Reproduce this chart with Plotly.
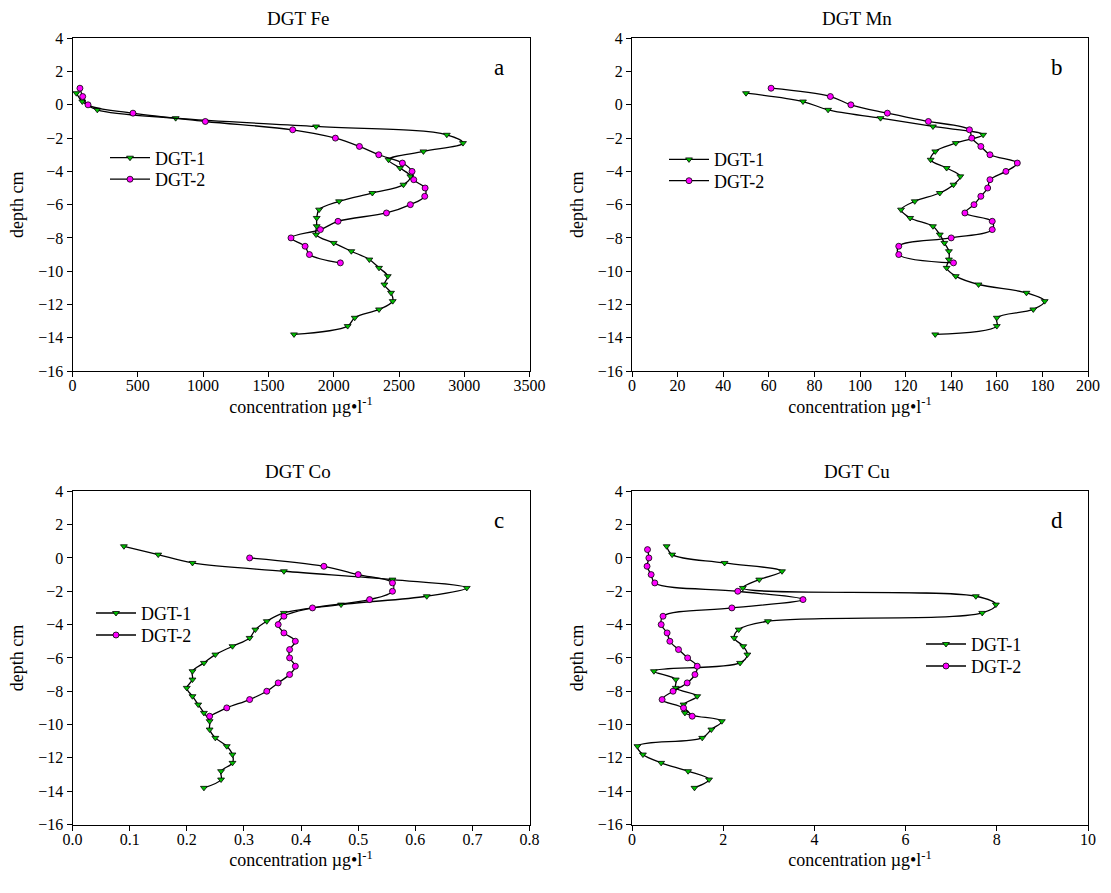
import plotly.graph_objects as go

# ---------------- data ----------------
depth1 = [0.7, 0.2, -0.3, -0.8, -1.3, -1.8, -2.3, -2.8, -3.3, -3.8, -4.3, -4.8, -5.3, -5.8, -6.3,
          -6.8, -7.3, -7.8, -8.3, -8.8, -9.3, -9.8, -10.3, -10.8, -11.3, -11.8, -12.3, -12.8, -13.3, -13.8]
depth2_fe_mn = [1.0, 0.5, 0.0, -0.5, -1.0, -1.5, -2.0, -2.5, -3.0, -3.5, -4.0, -4.5, -5.0, -5.5,
                -6.0, -6.5, -7.0, -7.5, -8.0, -8.5, -9.0, -9.5]
depth2_co = [0.0, -0.5, -1.0, -1.5, -2.0, -2.5, -3.0, -3.5, -4.0, -4.5, -5.0, -5.5, -6.0, -6.5,
             -7.0, -7.5, -8.0, -8.5, -9.0, -9.5]
depth2_cu = [0.5, 0.0, -0.5, -1.0, -1.5, -2.0, -2.5, -3.0, -3.5, -4.0, -4.5, -5.0, -5.5, -6.0,
             -6.5, -7.0, -7.5, -8.0, -8.5, -9.0, -9.5]

fe1 = [30, 75, 190, 790, 1865, 2866, 2990, 2687, 2420, 2508, 2587, 2534, 2296, 2041, 1888,
       1870, 1870, 1865, 2000, 2135, 2273, 2347, 2414, 2388, 2439, 2452, 2347, 2161, 2107, 1696]
fe2 = [57, 78, 119, 463, 1017, 1686, 2013, 2197, 2345, 2526, 2600, 2613, 2700, 2697, 2587,
       2404, 2033, 1898, 1673, 1781, 1814, 2051]

mn1 = [50, 75, 86, 109, 132, 154, 142, 133, 131, 138, 144, 141, 135, 124, 118,
       122, 132, 135, 137, 139, 139, 138, 142, 152, 173, 181, 176, 160, 160, 133]
mn2 = [61, 87, 96, 112, 130, 148, 149, 153, 157, 169, 164, 157, 156, 153, 150,
       146, 158, 158, 140, 117, 117, 141]

co1 = [0.09, 0.15, 0.21, 0.37, 0.56, 0.69, 0.62, 0.47, 0.37, 0.34, 0.32, 0.31, 0.28, 0.25, 0.23,
       0.21, 0.21, 0.20, 0.21, 0.22, 0.23, 0.24, 0.24, 0.25, 0.27, 0.28, 0.28, 0.26, 0.26, 0.23]
co2 = [0.31, 0.44, 0.50, 0.56, 0.56, 0.52, 0.42, 0.37, 0.36, 0.37, 0.39, 0.38, 0.38, 0.39,
       0.38, 0.36, 0.34, 0.31, 0.27, 0.24]

cu1 = [0.76, 0.88, 2.03, 3.29, 2.79, 2.43, 7.54, 7.98, 7.68, 2.98, 2.34, 2.24, 2.44, 2.53, 2.37,
       0.48, 0.96, 0.96, 1.43, 1.13, 1.16, 1.97, 1.74, 1.54, 0.12, 0.24, 0.64, 1.23, 1.69, 1.37]
cu2 = [0.34, 0.37, 0.33, 0.42, 0.50, 2.32, 3.75, 2.19, 0.68, 0.64, 0.77, 0.83, 1.02, 1.22,
       1.43, 1.38, 1.21, 0.90, 0.66, 1.13, 1.32]

panel_titles = ["DGT Fe", "DGT Mn", "DGT Co", "DGT Cu"]
panel_letters = ["a", "b", "c", "d"]
series_names = ["DGT-1", "DGT-2"]

# ---------------- layout geometry ----------------
W, H = 1111, 893
FONT = "Liberation Serif"
GREEN = "#00c000"
MAGENTA = "#ff00ff"

def px_x(p):
    return p / W

def px_y(p):
    return 1 - p / H

xdoms = [[px_x(72.5), px_x(529.6)], [px_x(632), px_x(1088)]]
ydoms = [[px_y(371), px_y(38.3)], [px_y(824.5), px_y(491.3)]]

panels = [
    dict(x1=fe1, y1=depth1, x2=fe2, y2=depth2_fe_mn, xr=[0, 3500], dt=500, fmt=None),
    dict(x1=mn1, y1=depth1, x2=mn2, y2=depth2_fe_mn, xr=[0, 200], dt=20, fmt=None),
    dict(x1=co1, y1=depth1, x2=co2, y2=depth2_co, xr=[0, 0.8], dt=0.1, fmt=".1f"),
    dict(x1=cu1, y1=depth1, x2=cu2, y2=depth2_cu, xr=[0, 10], dt=2, fmt=None),
]

# legend anchor (left x, item centre y) in pixels for each series of each panel
legend_x = [105, 664, 91, 921]
legend_y = [(157, 178.5), (158.7, 180), (612.3, 634.3), (643.3, 665.3)]

fig = go.Figure()
layout = dict(
    width=W, height=H,
    margin=dict(l=0, r=0, t=0, b=0, autoexpand=False),
    paper_bgcolor="white", plot_bgcolor="white",
    font=dict(family=FONT, size=16, color="black"),
    showlegend=True,
)
annotations = []
symbols = ["triangle-down", "circle"]
colors = [GREEN, MAGENTA]

for i, p in enumerate(panels):
    row, col = divmod(i, 2)
    ax = "" if i == 0 else str(i + 1)
    xa, ya = f"x{ax}", f"y{ax}"
    xs = [p["x1"], p["x2"]]
    ys = [p["y1"], p["y2"]]
    for s in range(2):
        k = 2 * i + s
        leg = "legend" if k == 0 else f"legend{k + 1}"
        fig.add_trace(go.Scatter(
            x=xs[s], y=ys[s], name=series_names[s], mode="lines+markers",
            line=dict(color="black", width=1.3, shape="spline", smoothing=1.0),
            marker=dict(symbol=symbols[s], size=6, color=colors[s], line=dict(color="black", width=0.8)),
            xaxis=xa, yaxis=ya, legend=leg,
        ))
        layout[leg] = dict(
            x=px_x(legend_x[i]), y=px_y(legend_y[i][s] - 17.5), xanchor="left", yanchor="top",
            xref="paper", yref="paper",
            bgcolor="rgba(0,0,0,0)", borderwidth=0, font=dict(family=FONT, size=18),
            itemwidth=40,
        )
    xkey = "xaxis" + ax
    ykey = "yaxis" + ax
    layout[xkey] = dict(
        domain=xdoms[col], anchor=ya, range=p["xr"], dtick=p["dt"], tick0=0,
        tickformat=p["fmt"], showgrid=False, zeroline=False,
        showline=True, linecolor="black", linewidth=1, mirror=True,
        ticks="outside", ticklen=5, tickcolor="black", ticklabelstandoff=-5,
        tickfont=dict(family=FONT, size=16),
        title=dict(text="concentration µg•l<sup>-1</sup>", font=dict(family=FONT, size=18), standoff=3),
    )
    layout[ykey] = dict(
        domain=ydoms[row], anchor=xa, range=[-16, 4], dtick=2, tick0=0,
        showgrid=False, zeroline=False,
        showline=True, linecolor="black", linewidth=1, mirror=True,
        ticks="outside", ticklen=5, tickcolor="black",
        tickfont=dict(family=FONT, size=16),
        title=dict(text="depth cm", font=dict(family=FONT, size=18), standoff=9),
    )
    # panel title
    annotations.append(dict(
        text=panel_titles[i], x=sum(xdoms[col]) / 2 - 3 / W, y=ydoms[row][1] + 20 / H,
        xref="paper", yref="paper", xanchor="center", yanchor="middle",
        showarrow=False, font=dict(family=FONT, size=19),
    ))
    # panel letter
    annotations.append(dict(
        text=panel_letters[i], x=xdoms[col][1] - 31 / W, y=ydoms[row][1] - 29 / H,
        xref="paper", yref="paper", xanchor="center", yanchor="middle",
        showarrow=False, font=dict(family=FONT, size=23),
    ))

layout["annotations"] = annotations
fig.update_layout(**layout)
fig.write_html("out.html")
